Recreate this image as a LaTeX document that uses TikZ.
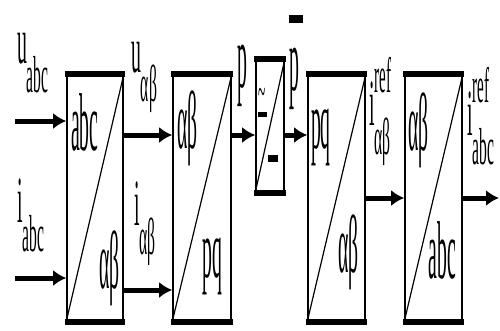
\documentclass[tikz,border=0pt]{standalone}
\usepackage{fontspec}
\setmainfont{Liberation Serif}
\usetikzlibrary{arrows.meta}
\newcommand{\lsub}[2]{#1\raisebox{-0.45em}{\fontsize{52}{52}\selectfont #2}}
\newcommand{\lref}[2]{#1\rlap{\raisebox{0.5em}{\fontsize{50}{50}\selectfont ref}}\raisebox{-0.45em}{\fontsize{52}{52}\selectfont #2}}
\begin{document}
\begin{tikzpicture}[
    x=1pt, y=-1pt,
    blk/.style={draw, line width=1.6pt, inner sep=0pt, minimum width=57pt, minimum height=246pt},
    band/.style={line width=6pt, shorten <=-0.8pt, shorten >=-0.8pt},
    sig/.style={line width=5pt, -{Latex[length=13pt,width=16pt]}},
    btxt/.style={font=\fontsize{82}{82}\selectfont, xscale=0.24, inner sep=0pt},
    lbl/.style={font=\fontsize{66}{66}\selectfont, xscale=0.3, inner sep=0pt, anchor=base west},
    plbl/.style={font=\fontsize{90}{90}\selectfont, xscale=0.22, inner sep=0pt, anchor=base west}
]
  \useasboundingbox (0,0) rectangle (500,330);

  % Blocks
  \node[blk, minimum width=56pt] (clarke) at (95,198) {};
  \node[blk, minimum width=58pt] (power) at (202,198) {};
  \node[blk, minimum width=28pt, minimum height=132pt] (filt) at (270,126) {};
  \node[blk] (curr) at (336.5,198) {};
  \node[blk] (iclarke) at (433.5,198) {};

  % Thick top and bottom edges, diagonals
  \draw[band] (clarke.north west) -- (clarke.north east);
  \draw[band] (clarke.south west) -- (clarke.south east);
  \draw[line width=1.2pt] (clarke.south west) -- (clarke.north east);
  \draw[band] (power.north west) -- (power.north east);
  \draw[band] (power.south west) -- (power.south east);
  \draw[line width=1.2pt] (power.south west) -- (power.north east);
  \draw[band] (filt.north west) -- (filt.north east);
  \draw[band] (filt.south west) -- (filt.south east);
  \draw[line width=1.2pt] (filt.south west) -- (filt.north east);
  \draw[band] (curr.north west) -- (curr.north east);
  \draw[band] (curr.south west) -- (curr.south east);
  \draw[line width=1.2pt] (curr.south west) -- (curr.north east);
  \draw[band] (iclarke.north west) -- (iclarke.north east);
  \draw[band] (iclarke.south west) -- (iclarke.south east);
  \draw[line width=1.2pt] (iclarke.south west) -- (iclarke.north east);

  % Texts inside the blocks
  \node[btxt, anchor=base west] (t1a) at (71,150) {abc};
  \node[btxt, anchor=base east] (t1b) at (120,288) {αβ};
  \node[btxt, anchor=base west] (t2a) at (177,148) {αβ};
  \node[btxt, anchor=base east] (t2b) at (222,277) {pq};
  \node[btxt, anchor=base west] (t4a) at (311,148) {pq};
  \node[btxt, anchor=base east] (t4b) at (359,272) {αβ};
  \node[btxt, anchor=base west] (t5a) at (408,150) {αβ};
  \node[btxt, anchor=base east] (t5b) at (456,278) {abc};

  % Filter symbols
  \node[font=\fontsize{44}{44}\selectfont, xscale=0.3, inner sep=0pt] (tld) at (262,97) {\textasciitilde};
  \fill (258,112) rectangle (267,117);
  \fill (268,155) rectangle (278,162);

  % Signals
  \coordinate (uin) at (15,121);
  \coordinate (iin) at (15,278);
  \coordinate (yu) at (0,135);
  \coordinate (yi) at (0,290);
  \coordinate (out) at (499,198);
  \draw[sig] (uin) -- (uin -| clarke.west);
  \draw[sig] (iin) -- (iin -| clarke.west);
  \draw[sig] (clarke.east |- yu) -- (power.west |- yu);
  \draw[sig] (clarke.east |- yi) -- (power.west |- yi);
  \draw[sig] (power.east |- yu) -- (filt.west |- yu);
  \draw[sig] (filt.east |- yu) -- (curr.west |- yu);
  \draw[sig] (curr.east) -- (iclarke.west);
  \draw[sig] (iclarke.east) -- (out);

  % Signal labels
  \node[lbl] (lu) at (17,63) {\lsub{u}{abc}};
  \node[lbl] (li) at (17,222) {\lsub{i}{abc}};
  \node[lbl] (luab) at (131,72) {\lsub{u}{αβ}};
  \node[lbl] (liab) at (134,225) {\lsub{i}{αβ}};
  \node[plbl] (lp) at (237,87) {p};
  \node[plbl] (lpbar) at (289,90) {\rlap{\raisebox{67pt}{\rule{62pt}{8pt}}}p};
  \node[lbl] (liref) at (369,125) {\lref{i}{αβ}};
  \node[lbl] (lout) at (467,135) {\lref{i}{abc}};

\end{tikzpicture}
\end{document}
